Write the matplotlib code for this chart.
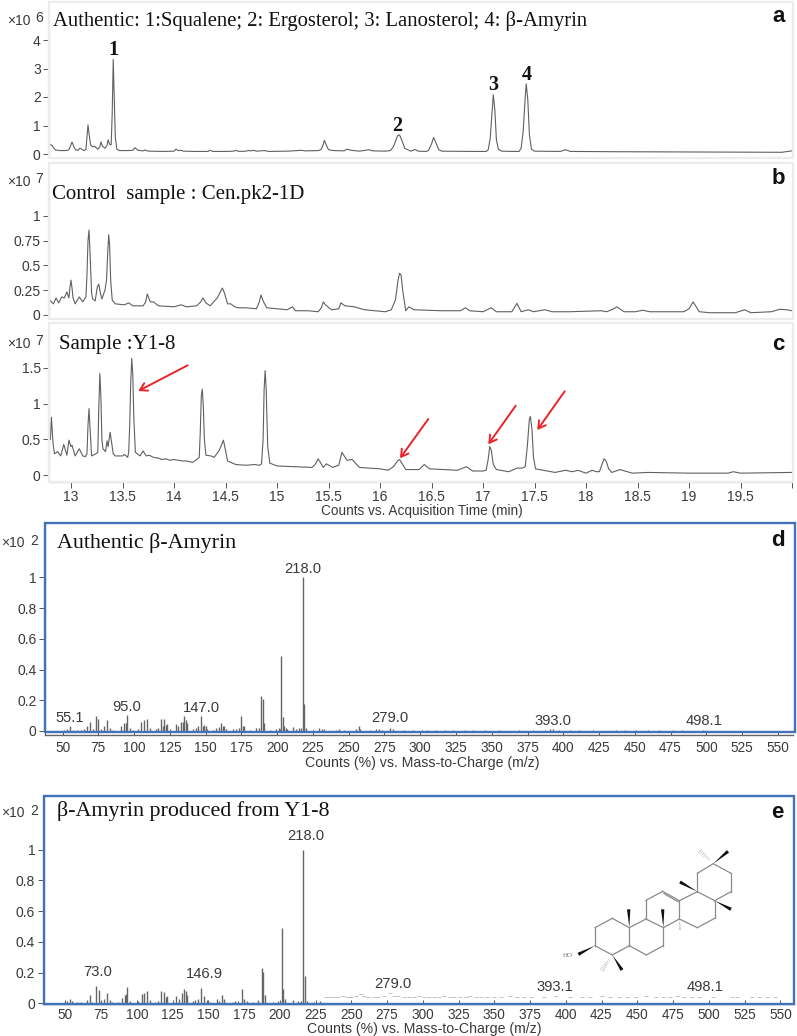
import matplotlib
matplotlib.use("Agg")
import matplotlib.pyplot as plt
from matplotlib.patches import Rectangle, Polygon, FancyArrowPatch
from matplotlib.lines import Line2D

W, H = 797, 1036
SANS = "Liberation Sans"
SERIF = "Liberation Serif"
TXT = "#3a3a3a"

# ---------- chromatograms (time in min, abundance) ----------
a_t = [12.8,12.815,12.83,12.85,12.9,12.95,12.98,12.995,13.01,13.025,13.045,13.07,13.085,13.1,13.125,13.145,13.155,13.165,13.175,13.19,13.21,13.23,13.26,13.28,13.29,13.305,13.33,13.35,13.36,13.375,13.39,13.4,13.41,13.42,13.43,13.445,13.47,13.55,13.6,13.62,13.65,13.7,13.72,13.75,13.9,14.0,14.02,14.04,14.07,14.09,14.2,14.33,14.35,14.38,14.5,14.58,14.6,14.63,14.7,14.72,14.75,14.77,14.8,14.88,14.92,15.1,15.24,15.27,15.4,15.43,15.45,15.46,15.48,15.5,15.55,15.65,15.68,15.72,15.8,15.86,15.89,15.93,16.05,16.1,16.13,16.15,16.17,16.19,16.21,16.24,16.3,16.34,16.37,16.45,16.47,16.5,16.52,16.54,16.57,16.6,16.9,17.03,17.05,17.07,17.09,17.1,17.115,17.13,17.15,17.18,17.3,17.35,17.37,17.39,17.41,17.42,17.435,17.45,17.47,17.5,17.75,17.8,17.85,18.3,19.0,19.9,19.96,20.0]
a_v = [.32,.31,.22,.14,.12,.12,.15,.28,.42,.28,.14,.13,.2,.18,.12,.16,.6,1.02,.72,.32,.25,.27,.17,.25,.42,.28,.2,.3,.5,.34,.32,1.4,3.32,2.0,.6,.17,.12,.12,.13,.22,.13,.11,.14,.1,.09,.1,.17,.12,.13,.1,.09,.09,.13,.09,.09,.1,.13,.09,.1,.12,.11,.13,.1,.12,.09,.1,.13,.11,.12,.16,.35,.48,.3,.15,.12,.11,.17,.13,.1,.13,.15,.11,.1,.12,.25,.45,.64,.67,.5,.2,.1,.16,.1,.09,.12,.35,.58,.42,.15,.1,.09,.09,.14,.55,1.6,2.08,1.55,.5,.16,.1,.09,.09,.2,.8,2.0,2.46,1.9,.7,.17,.1,.09,.15,.09,.08,.07,.06,.09,.11]

b_t = [12.8,12.83,12.855,12.88,12.91,12.935,12.96,12.98,12.99,13.0,13.01,13.02,13.04,13.08,13.115,13.145,13.155,13.165,13.175,13.185,13.2,13.21,13.235,13.255,13.27,13.285,13.3,13.33,13.345,13.355,13.366,13.375,13.385,13.4,13.43,13.52,13.56,13.6,13.7,13.725,13.74,13.755,13.77,13.8,13.85,14.0,14.07,14.12,14.22,14.26,14.28,14.31,14.35,14.42,14.47,14.49,14.52,14.55,14.59,14.62,14.7,14.8,14.825,14.845,14.865,14.9,15.0,15.1,15.15,15.18,15.3,15.4,15.43,15.45,15.47,15.53,15.6,15.62,15.66,15.75,15.85,16.05,16.11,16.15,16.175,16.19,16.205,16.22,16.25,16.28,16.33,16.6,16.78,16.83,16.87,17.0,17.08,17.13,17.28,17.33,17.37,17.44,17.49,17.6,17.67,17.84,18.15,18.2,18.27,18.3,18.34,18.37,18.48,18.55,18.62,18.95,19.0,19.04,19.07,19.1,19.2,19.45,19.54,19.6,19.8,19.88,19.95,20.0]
b_v = [.14,.11,.17,.12,.18,.17,.23,.17,.28,.35,.27,.17,.11,.18,.13,.18,.4,.75,.858,.62,.22,.16,.14,.28,.31,.22,.16,.25,.35,.6,.81,.7,.35,.15,.11,.1,.12,.09,.09,.13,.21,.17,.13,.13,.09,.08,.1,.08,.09,.13,.17,.12,.09,.17,.27,.22,.11,.11,.08,.07,.07,.06,.12,.2,.14,.07,.06,.05,.08,.04,.04,.03,.07,.13,.1,.05,.06,.12,.09,.08,.05,.03,.05,.15,.35,.42,.4,.25,.04,.08,.05,.04,.04,.07,.04,.03,.07,.03,.03,.115,.03,.05,.03,.05,.03,.03,.04,.03,.06,.08,.05,.03,.03,.045,.03,.03,.06,.13,.08,.03,.02,.02,.05,.02,.03,.055,.05,.04]

c_t = [12.8,12.81,12.825,12.84,12.87,12.9,12.93,12.96,12.98,13.0,13.01,13.04,13.08,13.115,13.14,13.155,13.165,13.175,13.185,13.2,13.24,13.26,13.27,13.28,13.29,13.3,13.31,13.335,13.35,13.36,13.38,13.41,13.43,13.5,13.52,13.55,13.56,13.57,13.58,13.59,13.6,13.61,13.625,13.67,13.7,13.73,13.76,13.8,13.85,13.88,13.92,13.96,14.0,14.04,14.08,14.12,14.18,14.22,14.245,14.255,14.265,14.275,14.285,14.295,14.31,14.36,14.39,14.44,14.48,14.5,14.52,14.6,14.7,14.78,14.83,14.85,14.865,14.875,14.885,14.895,14.91,14.93,15.0,15.17,15.34,15.37,15.4,15.45,15.48,15.54,15.6,15.63,15.68,15.73,15.8,16.0,16.08,16.13,16.17,16.19,16.25,16.38,16.43,16.48,16.75,16.84,16.9,17.0,17.03,17.05,17.065,17.08,17.1,17.13,17.25,17.33,17.38,17.41,17.43,17.45,17.46,17.475,17.49,17.51,17.7,17.8,17.87,17.92,18.0,18.06,18.1,18.13,18.15,18.175,18.195,18.22,18.25,18.33,18.45,18.6,19.0,19.38,19.43,19.5,20.0]
c_v = [.5,.81,.45,.3,.33,.27,.43,.28,.49,.4,.42,.27,.37,.27,.26,.3,.7,.93,.65,.27,.3,.32,.95,1.42,1.1,.5,.37,.33,.48,.4,.6,.3,.27,.27,.29,.25,.32,.7,1.3,1.63,1.4,.8,.32,.27,.34,.27,.28,.25,.24,.22,.23,.21,.22,.21,.2,.2,.18,.22,.25,.6,1.1,1.2,.95,.5,.28,.27,.25,.35,.49,.35,.2,.15,.14,.15,.14,.16,.5,1.2,1.46,1.2,.4,.17,.13,.12,.11,.15,.23,.11,.16,.11,.14,.32,.21,.22,.11,.09,.07,.12,.2,.22,.08,.08,.15,.09,.07,.12,.06,.06,.07,.22,.4,.35,.15,.08,.05,.1,.1,.12,.4,.78,.82,.65,.25,.09,.04,.07,.05,.07,.03,.07,.05,.05,.13,.23,.2,.09,.04,.08,.03,.04,.03,.03,.05,.03,.04]

a_ticks, a_ticklabels = [0, 1, 2, 3, 4], ["0", "1", "2", "3", "4"]
b_ticks, b_ticklabels = [0, .25, .5, .75, 1], ["0", "0.25", "0.5", "0.75", "1"]
c_ticks, c_ticklabels = [0, .5, 1, 1.5], ["0", "0.5", "1", "1.5"]
time_ticks = [13, 13.5, 14, 14.5, 15, 15.5, 16, 16.5, 17, 17.5, 18, 18.5, 19, 19.5, 20]
time_labels = ["13", "13.5", "14", "14.5", "15", "15.5", "16", "16.5", "17", "17.5", "18", "18.5", "19", "19.5", ""]

# ---------- mass spectra (m/z, relative abundance) ----------
d_mz = [51,53,55,57,60,63,65,67,69,71,73,75,77,79,81,83,85,91,93,94,95,97,99,103,105,107,109,111,115,117,119,120,121,122,123,125,129,131,133,134,135,136,137,141,143,145,147,148,149,150,151,155,157,159,161,162,163,164,169,171,173,175,176,177,181,185,187,189,190,191,195,199,201,202,203,204,205,206,207,211,213,215,217,218,219,220,225,229,231,233,241,243,247,255,257,258,265,269,271,273,279,281,289,295,301,305,311,317,323,331,337,345,355,369,379,387,391,393,397,405,411,421,437,443,451,459,467,477,483,498]
d_rel = [.008,.01,.03,.008,.006,.008,.012,.03,.06,.01,.10,.075,.012,.035,.07,.02,.008,.035,.055,.05,.105,.02,.008,.012,.06,.07,.075,.02,.01,.02,.08,.03,.075,.04,.045,.01,.045,.03,.06,.06,.095,.07,.055,.012,.02,.03,.10,.03,.04,.03,.012,.008,.02,.025,.05,.03,.03,.012,.01,.01,.02,.095,.03,.03,.008,.02,.02,.225,.205,.05,.008,.01,.02,.012,.485,.09,.03,.02,.01,.025,.01,.02,.02,1.0,.175,.02,.008,.02,.015,.012,.008,.012,.006,.01,.03,.015,.006,.01,.012,.008,.02,.01,.006,.005,.007,.006,.008,.006,.005,.007,.006,.005,.005,.006,.005,.007,.01,.014,.008,.006,.006,.005,.006,.005,.006,.006,.006,.005,.005,.009]

e_mz = [49.8,51,53,55,58,61,65.4,67.2,69,71.4,73.5,75,77.3,79.4,81,83,87,89.4,91.5,92.4,93.4,95,101,103.4,105.2,107.3,109,113,115,117,119,120.2,121.3,125,127.4,129.3,131.4,133.2,134.4,135.3,139,141,143,145.1,147,148.8,151,155.8,157.5,159.3,161,167,169,171,173.3,175,177,181,185,187.3,188.5,189.4,195,199,201.3,202.4,203.8,209.4,213,215,216.4,217.4,219,224,228]
e_rel = [.015,.012,.03,.015,.006,.006,.02,.055,.01,.115,.085,.012,.03,.07,.02,.008,.008,.035,.055,.06,.105,.012,.012,.06,.07,.08,.02,.008,.012,.08,.075,.04,.045,.01,.05,.03,.065,.095,.08,.055,.012,.02,.03,.10,.045,.02,.01,.025,.012,.055,.03,.01,.012,.012,.095,.03,.012,.008,.02,.23,.205,.055,.01,.012,.49,.095,.03,.02,.012,.015,1.0,.18,.012,.01,.012]
e_noise_mz = [232,235,238,241,244,247,250,253,256.5,259,262,266,269,273,277,280,283,287,290,294,297,301,304,308,311,315,319,322,326,330,333,337,341,345,350,355,361,366,371,376,385,393,403,411,417,425,431,437,443,449,456,463,468,473,478,483,488,493,503,516,520,530,535,541,546]
e_noise_rel = [.043,.043,.044,.043,.045,.044,.043,.046,.062,.045,.043,.044,.043,.045,.065,.05,.045,.043,.044,.043,.045,.044,.043,.044,.043,.045,.043,.044,.043,.044,.045,.043,.044,.043,.044,.043,.045,.043,.044,.043,.044,.05,.043,.044,.043,.045,.043,.044,.043,.044,.045,.043,.044,.043,.045,.044,.043,.044,.043,.044,.043,.044,.043,.043,.044]

ms_yticks = [0, .2, .4, .6, .8, 1]
ms_ylabels = ["0", "0.2", "0.4", "0.6", "0.8", "1"]
mz_ticks = list(range(50, 551, 25))

d_label_mz = [55.1, 95.0, 147.0, 218.0, 279.0, 393.0, 498.1]
d_label_txt = ["55.1", "95.0", "147.0", "218.0", "279.0", "393.0", "498.1"]
e_label_mz = [72.5, 147.0, 218.0, 279.0, 392.4, 497.6]
e_label_txt = ["73.0", "146.9", "218.0", "279.0", "393.1", "498.1"]

fig = plt.figure(figsize=(W / 100, H / 100), dpi=100, facecolor="white")


def fx(px):
    return px / W


def fy(py):
    return 1 - py / H


def axes_px(l, t, r, b):
    ax = fig.add_axes([fx(l), fy(b), (r - l) / W, (b - t) / H])
    ax.patch.set_alpha(0)
    return ax


def ftext(px, py, s, **kw):
    kw.setdefault("va", "center")
    kw.setdefault("ha", "left")
    kw.setdefault("family", SANS)
    kw.setdefault("color", TXT)
    return fig.text(fx(px), fy(py), s, **kw)


# Grey panel frames
for (t, b) in [(2, 158), (163, 319), (323, 482)]:
    fig.add_artist(Rectangle((fx(49), fy(b)), 744 / W, (b - t) / H, transform=fig.transFigure,
                             fill=False, ec="#ececec", lw=1.6))


def chrom(bottom, top, zero, unit, ts, vs, ticks, labels, exp, title, title_xy, tsize, letter, letter_y, expy):
    ax = axes_px(49, top, 792, bottom)
    ax.set_xlim(13 + (49 - 71) / 103, 20)
    ax.set_ylim((zero - bottom) / unit, (zero - top) / unit)
    ax.plot(ts, vs, color="#606060", lw=0.8, solid_joinstyle="round")
    for s in ("top", "right", "bottom"):
        ax.spines[s].set_visible(False)
    ax.spines["left"].set_bounds(0, (zero - top) / unit)
    ax.spines["left"].set_color("#555555")
    ax.spines["left"].set_linewidth(0.8)
    ax.set_yticks(ticks)
    ax.set_yticklabels(labels, family=SANS, fontsize=10, color=TXT)
    ax.tick_params(axis="y", length=4, width=0.7, color="#555555", pad=2)
    ax.set_xticks([])
    ftext(7, expy, "×10", fontsize=10)
    ftext(35, expy - 3, exp, fontsize=10)
    ftext(title_xy[0], title_xy[1], title, family=SERIF, fontsize=tsize, color="#111111")
    ftext(772, letter_y, letter, fontsize=16, fontweight="bold", color="#111111")
    return ax


ax_a = chrom(156, 31, 154, 28.5, a_t, a_v, a_ticks, a_ticklabels, "6",
             "Authentic: 1:Squalene; 2: Ergosterol; 3: Lanosterol; 4: β-Amyrin", (53, 21), 14.9, "a", 16, 21)
ax_b = chrom(317, 192, 314.7, 98.7, b_t, b_v, b_ticks, b_ticklabels, "7",
             "Control  sample : Cen.pk2-1D", (52, 195), 15, "b", 178, 182)
ax_c = chrom(482, 352, 475.3, 71.7, c_t, c_v, c_ticks, c_ticklabels, "7",
             "Sample :Y1-8", (59, 344), 15, "c", 344, 344)

ax_c.spines["bottom"].set_visible(True)
ax_c.spines["bottom"].set_color("#555555")
ax_c.spines["bottom"].set_linewidth(0.8)
ax_c.set_xticks(time_ticks)
ax_c.set_xticklabels(time_labels, family=SANS, fontsize=10, color=TXT)
ax_c.tick_params(axis="x", length=4, width=0.7, color="#555555", pad=2, direction="out")

ftext(421.5, 511, "Counts vs. Acquisition Time (min)", ha="center", fontsize=9.8)

# Numbered peaks in panel a
for (peak_t, px_y, label) in [(13.41, 50, "1"), (16.17, 126, "2"), (17.10, 85, "3"), (17.42, 75, "4")]:
    ax_a.annotate(label, xy=(peak_t, 0), xycoords=("data", "figure pixels"), xytext=(peak_t, H - px_y),
                  textcoords=("data", "figure pixels"), ha="center", va="center",
                  family=SERIF, fontsize=14.5, fontweight="bold", color="#111111")

# Red arrows on panel c
for (xs, ys, xe, ye) in [(187.7, 365.3, 138.3, 391), (428.3, 419, 400, 458.3),
                         (515.7, 405.7, 488.3, 444.3), (564.7, 391.3, 537.3, 430)]:
    fig.add_artist(FancyArrowPatch(
        (fx(xs), fy(ys)), (fx(xe), fy(ye)), transform=fig.transFigure, arrowstyle="->,head_length=5,head_width=3",
        color="#e8242a", lw=1.4, shrinkA=0, shrinkB=0, mutation_scale=1.0))


def spectrum(l, t, r, b, x50, scale, zero, unit, mz, rel, title, title_xy, letter, letter_y, expy, frame, pad, axcolor):
    ax = axes_px(l, t, r, b)
    ax.set_xlim(50 + (l - x50) / scale, 50 + (r - x50) / scale)
    ax.set_ylim((zero - b) / unit, (zero - t) / unit)
    ax.vlines(mz, 0, rel, color="#666666", lw=1.0)
    for s in ("top", "right"):
        ax.spines[s].set_visible(False)
    ax.spines["left"].set_color("#555555")
    ax.spines["bottom"].set_color(axcolor)
    ax.spines["bottom"].set_linewidth(1.0)
    ax.set_yticks(ms_yticks)
    ax.set_yticklabels(ms_ylabels, family=SANS, fontsize=10, color=TXT)
    ax.tick_params(axis="y", length=4, width=0.7, color="#555555", pad=2)
    ax.set_xticks(mz_ticks)
    ax.set_xticklabels([str(v) for v in mz_ticks], family=SANS, fontsize=9.8, color=TXT)
    ax.tick_params(axis="x", length=3, width=0.7, color="#555555", pad=pad, direction="in")
    ftext(1, expy, "×10", fontsize=10)
    ftext(30, expy - 2, "2", fontsize=10)
    ftext(title_xy[0], title_xy[1], title, family=SERIF, fontsize=15.8, color="#111111")
    ftext(771, letter_y, letter, fontsize=16, fontweight="bold", color="#111111")
    l0, t0, r0, b0 = frame
    fig.add_artist(Rectangle((fx(l0), fy(b0)), (r0 - l0) / W, (b0 - t0) / H, transform=fig.transFigure,
                             fill=False, ec="#4472b8", lw=1.7))
    return ax


ax_d = spectrum(45, 523, 793, 735, 62.6, 1.4305, 731, 153.7, d_mz, d_rel, "Authentic β-Amyrin",
                (57, 543), "d", 541, 543, (45, 523, 795, 732), 4.5, "#666666")
ax_e = spectrum(43.5, 796, 794, 1004.3, 65.3, 1.43, 1003.3, 153.6, e_mz, e_rel, "β-Amyrin produced from Y1-8",
                (57, 811), "e", 812, 813, (43.5, 796, 794, 1004.3), 3, "#4472b8")
ax_e.plot(e_noise_mz, e_noise_rel, ls="none", marker="_", ms=3.5, mew=0.5, color="#a8a8a8")

ftext(422, 763.5, "Counts (%) vs. Mass-to-Charge (m/z)", ha="center", fontsize=10.2)
ftext(424, 1029.5, "Counts (%) vs. Mass-to-Charge (m/z)", ha="center", fontsize=10.2)

# Peak labels placed at the heights seen in the reference
for ax, mzs, txts, ys in [(ax_d, d_label_mz, d_label_txt, [718, 707, 708, 569, 718, 721, 721]),
                          (ax_e, e_label_mz, e_label_txt, [972, 974, 836, 984, 987, 987])]:
    for m, s, py in zip(mzs, txts, ys):
        ax.annotate(s, xy=(m, 0), xycoords=("data", "figure pixels"), xytext=(m, H - py),
                    textcoords=("data", "figure pixels"), ha="center", va="center",
                    family=SANS, fontsize=10.6, color=TXT)

# Structure of beta-amyrin in the panel e inset (zoom-crop coordinates)
N = dict(C3=(585, 512), C2=(585, 458), C1=(637, 430), C10=(688, 458), C5=(688, 512), C4=(637, 540),
         C9=(738, 432), C8=(790, 458), C7=(790, 512), C6=(739, 540), C11=(738, 376), C12=(788, 349),
         C13=(838, 377), C14=(838, 432), C18=(892, 350), C17=(944, 377), C16=(944, 430), C15=(892, 458),
         C19=(892, 295), C20=(940, 266), C21=(993, 295), C22=(993, 350))


def zp(p):
    return (fx(400 + p[0] / 3), fy(775 + p[1] / 3))


bonds = ["C3 C2", "C2 C1", "C1 C10", "C10 C5", "C5 C4", "C4 C3", "C10 C9", "C9 C8", "C8 C7", "C7 C6", "C6 C5",
         "C9 C11", "C11 C12", "C12 C13", "C13 C14", "C14 C8", "C13 C18", "C18 C17", "C17 C16", "C16 C15", "C15 C14",
         "C18 C19", "C19 C20", "C20 C21", "C21 C22", "C22 C17"]
for bond in bonds:
    p, q = bond.split()
    (x1, y1), (x2, y2) = zp(N[p]), zp(N[q])
    fig.add_artist(Line2D([x1, x2], [y1, y2], color="#8a8a8a", lw=0.9, transform=fig.transFigure))
(x1, y1), (x2, y2) = zp((792, 356)), zp((834, 380))
fig.add_artist(Line2D([x1, x2], [y1, y2], color="#8a8a8a", lw=0.9, transform=fig.transFigure))

wedges = [("C10", (686, 403)), ("C8", (788, 403)), ("C18", (840, 321)), ("C17", (993, 403)),
          ("C20", (984, 229)), ("C3", (535, 538)), ("C4", (666, 585))]
for name, tip in wedges:
    ax0, ay0 = N[name]
    dx, dy = tip[0] - ax0, tip[1] - ay0
    ln = (dx ** 2 + dy ** 2) ** 0.5
    nx, ny = -dy / ln * 5, dx / ln * 5
    pts = [zp((ax0, ay0)), zp((tip[0] + nx, tip[1] + ny)), zp((tip[0] - nx, tip[1] - ny))]
    fig.add_artist(Polygon(pts, closed=True, fc="#111111", ec="none", transform=fig.transFigure))
hashes = [("C20", (900, 228), 7), ("C4", (606, 585), 7), ("C14", (840, 463), 3)]
for name, tip, hw in hashes:
    ax0, ay0 = N[name]
    for k in range(3, 10):
        f = k / 9
        cx, cy = ax0 + (tip[0] - ax0) * f, ay0 + (tip[1] - ay0) * f
        dx, dy = tip[0] - ax0, tip[1] - ay0
        ln = (dx ** 2 + dy ** 2) ** 0.5
        nx, ny = -dy / ln * hw * f, dx / ln * hw * f
        (x1, y1), (x2, y2) = zp((cx + nx, cy + ny)), zp((cx - nx, cy - ny))
        fig.add_artist(Line2D([x1, x2], [y1, y2], color="#aaaaaa", lw=0.4, transform=fig.transFigure))
ftext(400 + 503 / 3, 775 + 541 / 3, "HO", family=SERIF, fontsize=5, ha="center", color="#777777")

fig.savefig("out.png", dpi=100, facecolor="white")
